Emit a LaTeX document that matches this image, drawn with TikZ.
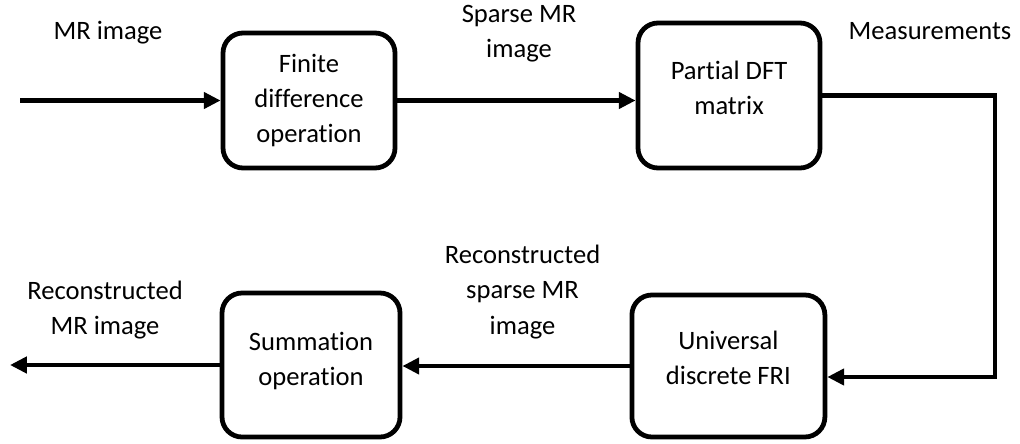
\documentclass[tikz,border=0pt]{standalone}
\usepackage{fontspec}
\setmainfont{Carlito}[Ligatures={NoCommon}]
\usetikzlibrary{arrows.meta}

\begin{document}
\begin{tikzpicture}[>={Triangle[length=0.42cm,width=0.4cm]}, line width=3.2pt, font=\fontsize{18.9}{25}\selectfont]
        \tikzset{box/.style={draw, rounded corners=0.5cm, minimum height=3.55cm, align=center, line width=3.4pt}}
        \tikzset{tag/.style={align=center, inner sep=0pt}}
        \useasboundingbox (0,0) rectangle (25.5,11.075);
        \node[box, minimum width=4.3cm, minimum height=3.375cm] (finite) at (7.725,8.5625) {Finite\\difference\\operation};
        \node[box, minimum width=4.55cm, minimum height=3.625cm, text depth=0.4cm] (dft) at (18.225,8.6875) {Partial DFT\\matrix};
        \node[box, minimum width=4.825cm, text depth=0.4cm] (fri) at (18.21,1.925) {Universal\\discrete FRI};
        \node[box, minimum width=4.45cm, minimum height=3.6cm, text depth=0.3cm] (summ) at (7.775,1.95) {Summation\\operation};
        \coordinate (in) at (0.5,8.5625);
        \coordinate (bend) at (24.875,1.65);
        \coordinate (out) at (0.25,1.95);
        \node[tag, anchor=base] (lin) at (2.7,10.075) {MR image};
        \node[tag] (lsparse) at (12.975,10.2375) {Sparse MR\\image};
        \node[tag, anchor=base] (lmeas) at (23.25,10.075) {Measurements};
        \node[tag] (lrsparse) at (13.0625,3.775) {Reconstructed\\sparse MR\\image};
        \node[tag] (lout) at (2.625,3.325) {Reconstructed\\MR image};
        \draw[->] (in) -- (finite.west);
        \draw[->] (finite.east) -- (finite.east -| dft.west);
        \draw[->] (dft.east) -| (bend) -- (bend -| fri.east);
        \draw[->] (fri.west) -- (fri.west -| summ.east);
        \draw[->] (summ.west) -- (out);
    \end{tikzpicture}
\end{document}
